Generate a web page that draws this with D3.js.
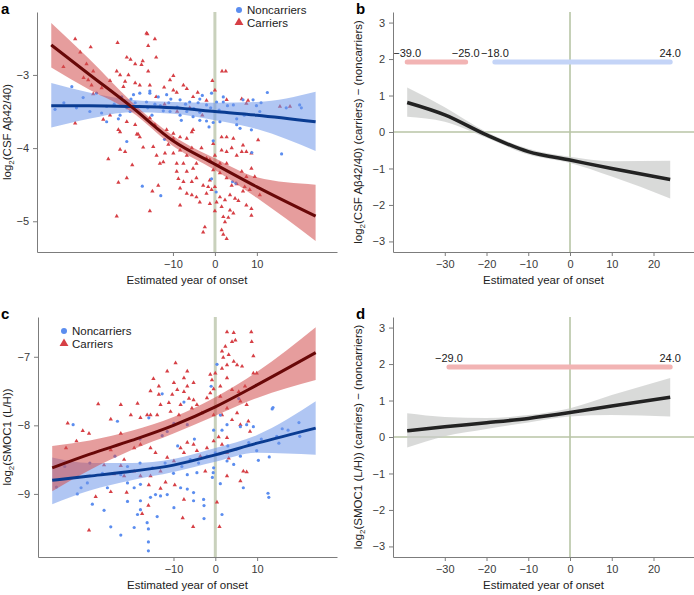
<!DOCTYPE html>
<html>
<head>
<meta charset="utf-8">
<script src="https://cdn.jsdelivr.net/npm/d3@7"></script>
<style>
body { margin: 0; background: #fff; }
svg { font-family: "Liberation Sans", Arial, sans-serif; }
.axis path, .axis line { stroke: #7c7c7c; }
.axis text { fill: #3a3a3a; font-size: 11px; }
</style>
</head>
<body>
<svg id="chart" width="694" height="595"></svg>
<script>
// years at which the fitted curves and their bands are sampled
var fitYears = [-39, -30, -20, -10, 0, 10, 24];

// panel a, log2(CSF Abeta42/40)
var aNonFit = [-3.42, -3.42, -3.43, -3.45, -3.50, -3.55, -3.64];
var aNonLo  = [-3.72, -3.60, -3.51, -3.53, -3.62, -3.74, -4.04];
var aNonHi  = [-3.11, -3.24, -3.34, -3.37, -3.38, -3.37, -3.23];
var aCarFit = [-2.59, -2.99, -3.43, -3.90, -4.22, -4.53, -4.93];
var aCarLo  = [-2.90, -3.20, -3.50, -3.97, -4.30, -4.68, -5.27];
var aCarHi  = [-2.29, -2.78, -3.36, -3.83, -4.14, -4.40, -4.50];

// panel c, log2(SMOC1 (L/H))
var cNonFit = [-8.80, -8.74, -8.67, -8.58, -8.43, -8.26, -8.04];
var cNonLo  = [-9.15, -8.95, -8.80, -8.68, -8.53, -8.40, -8.43];
var cNonHi  = [-8.47, -8.55, -8.55, -8.49, -8.33, -8.14, -7.65];
var cCarFit = [-8.62, -8.42, -8.22, -8.00, -7.73, -7.41, -6.94];
var cCarLo  = [-8.96, -8.65, -8.36, -8.12, -7.86, -7.60, -7.34];
var cCarHi  = [-8.30, -8.22, -8.08, -7.88, -7.59, -7.22, -6.57];

// panels b and d, carriers minus noncarriers
var bDiffFit = [0.81, 0.47, -0.08, -0.54, -0.77, -1.00, -1.30];
var bDiffLo  = [0.42, 0.28, -0.16, -0.62, -0.85, -1.22, -1.82];
var bDiffHi  = [1.22, 0.68, 0.00, -0.46, -0.68, -0.80, -0.79];
var dDiffFit = [0.17, 0.28, 0.39, 0.51, 0.67, 0.85, 1.09];
var dDiffLo  = [-0.29, 0.02, 0.22, 0.40, 0.56, 0.60, 0.56];
var dDiffHi  = [0.65, 0.55, 0.52, 0.60, 0.79, 1.15, 1.62];

// significant intervals
var bIntervals = [{from: -39, to: -25, group: "car"}, {from: -18, to: 24, group: "non"}];
var dIntervals = [{from: -29, to: 24, group: "car"}];

// tick values
var scatterXTicks = [-10, 0, 10];
var diffXTicks = [-30, -20, -10, 0, 10, 20];
var aYTicks = [-3, -4, -5];
var cYTicks = [-7, -8, -9];
var diffYTicks = [3, 2, 1, 0, -1, -2, -3];

// individual participants: [estimated year of onset, value]
var aCarriers = [
  [-33.3,-2.51],[-29.6,-2.62],[-32.1,-2.69],[-23.2,-2.56],[-16.1,-2.44],[-14.3,-2.51],[-15.9,-2.60],[-14.0,-2.76],
  [-21.0,-2.76],[-20.1,-2.79],[-17.2,-2.81],[-19.0,-2.85],[-17.5,-2.86],[-30.6,-2.85],[-36.1,-2.89],[-29.0,-2.95],
  [-23.4,-2.95],[-22.6,-3.00],[-20.6,-3.00],[-15.9,-2.95],[-31.3,-3.04],[-30.2,-3.07],[-25.0,-3.08],[-21.4,-3.09],
  [-19.0,-3.11],[-17.9,-3.14],[-15.5,-3.14],[-21.8,-3.16],[-29.4,-3.14],[-29.0,-3.26],[-27.0,-3.18],[-9.9,-3.01],
  [-10.7,-3.07],[-12.1,-3.17],[-9.9,-3.21],[-7.5,-3.14],[-6.7,-3.19],[-9.1,-3.24],[-5.2,-3.30],[-4.1,-3.24],
  [-0.6,-3.08],[0.0,-3.21],[1.7,-2.95],[2.6,-2.95],[7.9,-3.35],[17.9,-3.43],[-33.3,-3.66],[-26.6,-3.61],
  [-25.0,-3.55],[-21.0,-3.64],[-19.0,-3.68],[-15.5,-3.59],[-18.3,-3.81],[-11.5,-3.75],[-9.9,-3.80],[-23.0,-3.75],
  [-5.2,-3.75],[-14.3,-3.68],[-12.0,-3.40],[-9.0,-3.50],[-6.0,-3.45],[-3.0,-3.55],[-14.0,-3.30],[-2.0,-3.35],
  [15.5,-3.43],[6.4,-3.33],[7.5,-3.39],[2.8,-3.34],[-16.3,-2.43],
  [-22.6,-3.78],[-18.6,-3.81],[-17.9,-3.85],[-22.6,-4.02],[-21.4,-4.05],[-25.4,-4.15],[-19.7,-4.23],[-23.0,-4.47],
  [-21.0,-4.41],[-23.4,-4.93],[-15.5,-4.86],[-14.9,-4.59],[-13.5,-4.51],[-17.1,-3.99],[-14.7,-3.98],[-13.9,-4.10],
  [-11.9,-4.07],[-11.1,-3.95],[-9.9,-3.87],[-8.3,-3.85],[-6.7,-3.87],[-5.5,-3.78],[-9.9,-4.07],[-8.3,-4.03],
  [-6.7,-4.10],[-5.5,-4.00],[-3.2,-4.00],[-9.1,-4.21],[-7.5,-4.21],[-4.4,-4.21],[-13.1,-4.21],[-12.3,-4.19],
  [-9.1,-4.32],[-6.7,-4.32],[-5.2,-4.28],[-8.7,-4.42],[-7.5,-4.46],[-5.5,-4.46],[-4.4,-4.41],[-2.8,-4.51],
  [-8.3,-4.55],[-6.7,-4.62],[-5.5,-4.64],[-4.4,-4.67],[-8.3,-4.78],[-3.6,-4.74],[-2.0,-4.62],[-1.6,-4.53],
  [-1.2,-4.44],[-0.4,-4.30],[-1.2,-4.16],[0.0,-4.10],[1.2,-4.21],[2.8,-4.21],[1.6,-4.03],[2.8,-4.05],
  [4.0,-4.00],[5.2,-4.10],[6.4,-4.05],[7.5,-4.05],[8.7,-4.07],[6.7,-3.96],[10.3,-3.89],[4.4,-3.87],
  [2.8,-3.85],[1.6,-3.85],[-0.4,-3.94],[-2.0,-4.14],[1.2,-4.34],[2.8,-4.41],[4.0,-4.51],[5.2,-4.49],
  [6.4,-4.32],[7.5,-4.39],[8.7,-4.28],[9.5,-4.39],[7.1,-4.53],[8.3,-4.57],[10.7,-4.64],[6.7,-4.59],
  [-0.8,-4.57],[0.0,-4.53],[1.2,-4.67],[2.4,-4.71],[0.4,-4.74],[1.6,-4.80],[3.6,-4.64],[4.8,-4.69],
  [5.6,-4.72],[7.5,-4.78],[8.7,-4.83],[8.7,-4.92],[3.6,-4.85],[4.4,-4.89],[2.0,-4.94],[3.2,-4.95],
  [2.4,-5.01],[0.0,-4.86],[-1.2,-4.76],[-2.4,-5.08],[-2.8,-5.15],[1.6,-5.12],[2.0,-5.18],[2.8,-5.24]
];
var aNoncarriers = [
  [-34.1,-3.16],[-38.1,-3.47],[-31.4,-3.31],[-28.2,-3.25],[-29.8,-3.50],[-25.8,-3.43],[-22.2,-3.30],[-19.4,-3.27],
  [-17.9,-3.25],[-15.5,-3.22],[-13.5,-3.30],[-11.5,-3.27],[-10.5,-3.33],[-8.3,-3.34],[-6.0,-3.37],[-3.6,-3.33],
  [-2.0,-3.41],[-0.8,-3.25],[0.4,-3.37],[2.0,-3.37],[4.4,-3.41],[6.7,-3.34],[9.9,-3.42],[12.5,-3.24],
  [10.7,-3.50],[20.2,-3.41],[20.6,-3.45],[-25.8,-3.64],[-22.6,-3.55],[-20.2,-3.50],[-17.9,-3.43],[-16.3,-3.37],
  [-14.3,-3.40],[-12.3,-3.49],[-10.7,-3.50],[-8.3,-3.55],[-6.7,-3.50],[-5.2,-3.57],[-3.6,-3.51],[-2.0,-3.63],
  [-0.4,-3.65],[1.2,-3.64],[5.2,-3.60],[6.0,-3.73],[-24,-3.40],[-21,-3.45],[-19,-3.38],[-16,-3.45],
  [-13,-3.42],[-11,-3.38],[-9,-3.44],[-7,-3.40],[-5,-3.46],[-4,-3.38],[-1,-3.45],[1,-3.48],
  [3,-3.42],[-27,-3.52],[-23,-3.60],[-20,-3.33],[-15,-3.55],[-8,-3.62],[-3,-3.28],[2,-3.30],
  [7,-3.55],[11,-3.38],[17,-3.45],[-36,-3.38],[-33,-3.45],[-21.0,-3.91],[-17.3,-4.52],[-12.9,-4.65],
  [-0.4,-3.90],[-0.8,-4.42],[4.2,-4.46],[5.0,-4.48],[8.8,-4.06],[15.9,-4.08],[0.3,-4.60],[8.7,-3.75],
  [-12,-3.88],[-15.5,-3.25],[-3.6,-3.62],[-1.4,-3.71],[5.2,-3.68],[9.1,-3.34]
];
var cCarriers = [
  [-35.3,-7.97],[-31.7,-8.08],[-28.0,-7.69],[-25.0,-7.91],[-22.6,-7.70],[-20.2,-7.85],[-18.6,-7.68],[-17.9,-7.89],
  [-16.3,-7.85],[-14.8,-7.32],[-13.5,-7.43],[-11.5,-7.21],[-9.5,-7.09],[-9.9,-7.38],[-9.1,-7.48],[-10.3,-7.55],
  [-7.5,-7.31],[-6.7,-7.21],[-5.2,-7.38],[-6.7,-7.43],[-7.5,-7.51],[-6.3,-7.61],[-5.2,-7.63],[-11.1,-7.67],
  [-13.5,-7.55],[-15.5,-7.50],[-13.1,-7.70],[-13.9,-7.85],[-15.5,-7.85],[-10.7,-7.80],[-8.3,-7.70],[-8.7,-7.85],
  [-5.6,-7.75],[-4.4,-7.70],[-3.2,-7.82],[-2.0,-7.60],[-1.2,-7.53],[-0.8,-7.34],[-1.2,-7.26],[0.0,-7.24],
  [-0.4,-7.47],[1.2,-7.43],[1.6,-7.17],[2.8,-7.12],[2.8,-7.31],[1.9,-7.01],[1.6,-6.92],[2.4,-6.85],
  [2.8,-6.64],[4.4,-6.65],[4.8,-6.76],[4.0,-6.78],[3.2,-6.97],[4.4,-7.07],[5.2,-7.12],[6.4,-7.14],
  [8.6,-6.64],[8.7,-6.78],[9.1,-6.99],[9.1,-7.24],[9.9,-7.24],[7.1,-7.43],[5.6,-7.51],[4.0,-7.48],
  [6.0,-7.65],[7.5,-7.70],[5.2,-7.82],[2.8,-7.75],[1.6,-7.85],[4.0,-7.92],[6.0,-7.99],[7.9,-7.94],
  [8.3,-8.09],[-0.4,-7.85],[1.2,-7.58],
  [-30.2,-8.12],[-33.2,-8.23],[-35.7,-8.33],[-22.6,-8.12],[-25.0,-8.36],[-28.6,-9.04],[-30.2,-9.53],[-25.0,-8.97],
  [-21.2,-8.98],[-16.0,-9.17],[-17.5,-9.29],[-15.9,-8.87],[-13.1,-8.92],[-11.9,-8.83],[-9.7,-8.87],[-7.5,-9.08],
  [-7.8,-9.35],[-5.3,-9.48],[0.4,-9.12],[1.0,-9.48],[-2.4,-8.67],[2.8,-8.74],[6.7,-8.67],[7.5,-8.68],
  [6.0,-8.81],[3.2,-8.48],[-11.5,-8.47],[-9.9,-8.52],[-14.3,-8.40],[-15.5,-8.33],[-17.9,-8.28],[-19.4,-8.33],
  [-21.8,-8.50],[-22.6,-8.59],[-26.6,-8.58],[-24.2,-8.71],[-21.8,-8.74],[-19.4,-8.67],[-17.9,-8.74],[-15.5,-8.74],
  [-13.1,-8.67],[-7.5,-8.40],[-8.3,-8.33],[-6.7,-8.25],[-5.2,-8.28],[-4.4,-8.37],[-3.6,-8.45],[-2.0,-8.33],
  [-0.4,-8.23],[0.8,-8.17],[1.6,-8.28],[2.8,-8.18],[2.8,-8.40]
];
var cNoncarriers = [
  [-34.0,-7.99],[-23.4,-7.94],[-15.9,-7.89],[-12.7,-7.54],[-9.9,-7.97],[-7.5,-7.66],[-1.0,-7.43],[0.4,-7.11],
  [1.2,-7.85],[5.6,-7.61],[13.6,-7.76],[20.0,-7.96],[17.4,-8.07],[9.1,-8.02],[7.5,-7.99],[6.0,-8.02],
  [2.8,-7.99],[1.6,-8.07],[-0.4,-8.07],[-6.7,-7.99],[-11.5,-8.09],
  [-29.4,-9.15],[-26.6,-9.24],[-25.0,-9.48],[-22.6,-9.60],[-19.4,-9.49],[-18.6,-9.30],[-17.9,-9.23],[-16.0,-9.51],
  [-16.0,-9.70],[-16.0,-9.83],[-13.9,-9.33],[-16.3,-9.42],[-21.0,-9.11],[-17.9,-9.10],[-15.5,-9.05],[-14.3,-9.01],
  [-13.1,-9.03],[-11.5,-9.01],[-9.9,-9.20],[-8.3,-8.91],[-6.7,-8.93],[-5.2,-8.98],[-5.2,-9.10],[-2.8,-9.08],
  [-2.7,-9.17],[-2.7,-9.36],[1.6,-9.30],[1.2,-8.85],[-0.7,-8.76],[-0.5,-8.69],[6.7,-8.91],[12.8,-9.05],
  [10.3,-8.51],[12.9,-8.46],[15.2,-8.26],[20.2,-8.16],[14.7,-8.16],[9.9,-8.37],[6.0,-8.45],[-22.6,-8.72],
  [-21.0,-8.84],[-32.1,-8.91],[-30.6,-8.84],[-33.0,-8.76],[-25.8,-8.91],[-19.4,-8.91],[-17.9,-8.86],[-6.7,-8.72],
  [-4.4,-8.69],[-0.4,-8.62],[2.8,-8.52],[4.4,-8.57],[-36,-8.60],[-30,-8.55],[-27,-8.70],[-24,-8.45],
  [-21,-8.60],[-18,-8.55],[-15,-8.62],[-12,-8.55],[-10,-8.70],[-8,-8.60],[-6,-8.50],[-4,-8.55],
  [-2,-8.45],[0,-8.40],[3,-8.30],[5,-8.35],[8,-8.25],[11,-8.20],[16,-8.05],[-33,-9.00],
  [-38,-8.90],[12.6,-8.99],[13.8,-7.74],[-12.7,-8.15],[-18,-8.20],[-5,-8.20],[-9,-8.30]
];

var blueDot = "#5b8def", redTri = "#d63f45";
var blueBand = "#6f97ea", redBand = "#d24d4d";
var blueLine = "#0a3c92", redLine = "#690808";
var refLine = "#c9d1bc";

var svg = d3.select("#chart");
var fmt1 = d3.format(".1f");
var fmtInt = d3.format("d");

function rows(fit, lo, hi) {
  return fitYears.map(function(yr, i) { return {yr: yr, fit: fit[i], lo: lo[i], hi: hi[i]}; });
}

function yTitle(g, x, yMid, before, after) {
  var t = g.append("text")
    .attr("transform", "translate(" + x + "," + yMid + ") rotate(-90)")
    .attr("text-anchor", "middle")
    .attr("font-size", 11.5)
    .attr("fill", "#222");
  t.append("tspan").text(before);
  t.append("tspan").attr("font-size", 8).attr("dy", 3).text("2");
  t.append("tspan").attr("dy", -3).text(after);
}

function axes(g, p, x, y, xTicks, yTicks) {
  g.append("g").attr("class", "axis")
    .attr("transform", "translate(0," + p.bottom + ")")
    .call(d3.axisBottom(x).tickValues(xTicks).tickFormat(fmtInt).tickSize(4).tickSizeOuter(0).tickPadding(4));
  g.append("g").attr("class", "axis")
    .attr("transform", "translate(" + p.left + ",0)")
    .call(d3.axisLeft(y).tickValues(yTicks).tickFormat(fmtInt).tickSize(4).tickSizeOuter(0).tickPadding(4));
  g.append("text")
    .attr("x", (p.left + p.right) / 2).attr("y", p.bottom + 32)
    .attr("text-anchor", "middle").attr("font-size", 11.5).attr("fill", "#222")
    .text("Estimated year of onset");
  g.append("text")
    .attr("x", p.letterX).attr("y", p.top + 2)
    .attr("font-size", 15).attr("font-weight", "bold").attr("fill", "#000")
    .text(p.letter);
}

function scatterPanel(p) {
  var x = d3.scaleLinear().domain([-42.4, 29.1]).range([p.left, p.right]);
  var y = d3.scaleLinear().domain(p.yDomain).range([p.bottom, p.top]);
  var g = svg.append("g");

  g.append("line")
    .attr("x1", x(0)).attr("x2", x(0)).attr("y1", p.top).attr("y2", p.bottom)
    .attr("stroke", refLine).attr("stroke-width", 3);

  var tri = d3.symbol().type(d3.symbolTriangle).size(8);
  g.append("g").selectAll("path").data(p.carriers).enter().append("path")
    .attr("transform", function(d) { return "translate(" + x(d[0]) + "," + y(d[1]) + ")"; })
    .attr("d", tri).attr("fill", redTri);
  g.append("g").selectAll("circle").data(p.noncarriers).enter().append("circle")
    .attr("cx", function(d) { return x(d[0]); })
    .attr("cy", function(d) { return y(d[1]); })
    .attr("r", 1.6).attr("fill", blueDot);

  var area = d3.area().curve(d3.curveMonotoneX)
    .x(function(d) { return x(d.yr); })
    .y0(function(d) { return y(d.lo); })
    .y1(function(d) { return y(d.hi); });
  var line = d3.line().curve(d3.curveMonotoneX)
    .x(function(d) { return x(d.yr); })
    .y(function(d) { return y(d.fit); });

  g.append("path").attr("d", area(p.nonRows)).attr("fill", blueBand).attr("fill-opacity", 0.55);
  g.append("path").attr("d", area(p.carRows)).attr("fill", redBand).attr("fill-opacity", 0.55);
  g.append("path").attr("d", line(p.nonRows)).attr("fill", "none").attr("stroke", blueLine).attr("stroke-width", 3);
  g.append("path").attr("d", line(p.carRows)).attr("fill", "none").attr("stroke", redLine).attr("stroke-width", 3);

  axes(g, p, x, y, scatterXTicks, p.yTicks);
  yTitle(g, 11, (p.top + p.bottom) / 2, "log", p.yLabel);

  // legend
  var lg = g.append("g").attr("transform", "translate(" + p.legend[0] + "," + p.legend[1] + ")");
  lg.append("circle").attr("cx", 0).attr("cy", 0).attr("r", 3).attr("fill", blueDot);
  lg.append("path").attr("transform", "translate(0,12.5)")
    .attr("d", d3.symbol().type(d3.symbolTriangle).size(34)).attr("fill", redTri);
  lg.append("text").attr("x", 8).attr("y", 4).attr("font-size", 11.5).attr("fill", "#222").text("Noncarriers");
  lg.append("text").attr("x", 8).attr("y", 16.5).attr("font-size", 11.5).attr("fill", "#222").text("Carriers");
}

function diffPanel(p) {
  var x = d3.scaleLinear().domain([-42.4, 29.7]).range([p.left, p.right]);
  var y = d3.scaleLinear().domain([-3.29, 3.29]).range([p.bottom, p.top]);
  var g = svg.append("g");

  g.append("line")
    .attr("x1", x(0)).attr("x2", x(0)).attr("y1", p.top).attr("y2", p.bottom)
    .attr("stroke", "#b8c5a6").attr("stroke-width", 1.6);
  g.append("line")
    .attr("x1", p.left).attr("x2", p.right).attr("y1", y(0)).attr("y2", y(0))
    .attr("stroke", "#b8c5a6").attr("stroke-width", 1.6);

  // intervals where carriers differ from noncarriers
  var iv = g.append("g").selectAll("g").data(p.intervals).enter().append("g");
  iv.append("line")
    .attr("x1", function(d) { return x(d.from); })
    .attr("x2", function(d) { return x(d.to); })
    .attr("y1", y(1.92)).attr("y2", y(1.92))
    .attr("stroke", function(d) { return d.group === "car" ? "#f2b4b4" : "#c4d4f7"; })
    .attr("stroke-width", 5).attr("stroke-linecap", "round");
  iv.selectAll("text")
    .data(function(d) { return [d.from, d.to]; })
    .enter().append("text")
    .attr("x", function(v) { return x(v); })
    .attr("y", y(1.92) - 5)
    .attr("text-anchor", "middle").attr("font-size", 11).attr("fill", "#222")
    .text(function(v) { return fmt1(v); });

  var r = p.rows;
  g.append("path")
    .attr("d", d3.area().curve(d3.curveMonotoneX)
      .x(function(d) { return x(d.yr); })
      .y0(function(d) { return y(d.lo); })
      .y1(function(d) { return y(d.hi); })(r))
    .attr("fill", "#c9cbc9").attr("fill-opacity", 0.7);
  g.append("path")
    .attr("d", d3.line().curve(d3.curveMonotoneX)
      .x(function(d) { return x(d.yr); })
      .y(function(d) { return y(d.fit); })(r))
    .attr("fill", "none").attr("stroke", "#222").attr("stroke-width", 3.5);

  axes(g, p, x, y, diffXTicks, diffYTicks);
  yTitle(g, 362, (p.top + p.bottom) / 2, "log", p.yLabel + " (carriers) \u2212 (noncarriers)");
}

scatterPanel({
  letter: "a", letterX: 1, left: 37, right: 337, top: 12, bottom: 252,
  yDomain: [-5.42, -2.14], yTicks: aYTicks, yLabel: "(CSF A\u03b242/40)",
  carriers: aCarriers, noncarriers: aNoncarriers,
  carRows: rows(aCarFit, aCarLo, aCarHi), nonRows: rows(aNonFit, aNonLo, aNonHi),
  legend: [239, 10]
});
scatterPanel({
  letter: "c", letterX: 1, left: 38, right: 337, top: 317, bottom: 557,
  yDomain: [-9.92, -6.42], yTicks: cYTicks, yLabel: "(SMOC1 (L/H))",
  carriers: cCarriers, noncarriers: cNoncarriers,
  carRows: rows(cCarFit, cCarLo, cCarHi), nonRows: rows(cNonFit, cNonLo, cNonHi),
  legend: [64, 331]
});
diffPanel({
  letter: "b", letterX: 356, left: 393, right: 694, top: 12, bottom: 252,
  yLabel: "(CSF A\u03b242/40)", rows: rows(bDiffFit, bDiffLo, bDiffHi), intervals: bIntervals
});
diffPanel({
  letter: "d", letterX: 356, left: 393, right: 694, top: 317, bottom: 557,
  yLabel: "(SMOC1 (L/H))", rows: rows(dDiffFit, dDiffLo, dDiffHi), intervals: dIntervals
});
</script>
</body>
</html>
